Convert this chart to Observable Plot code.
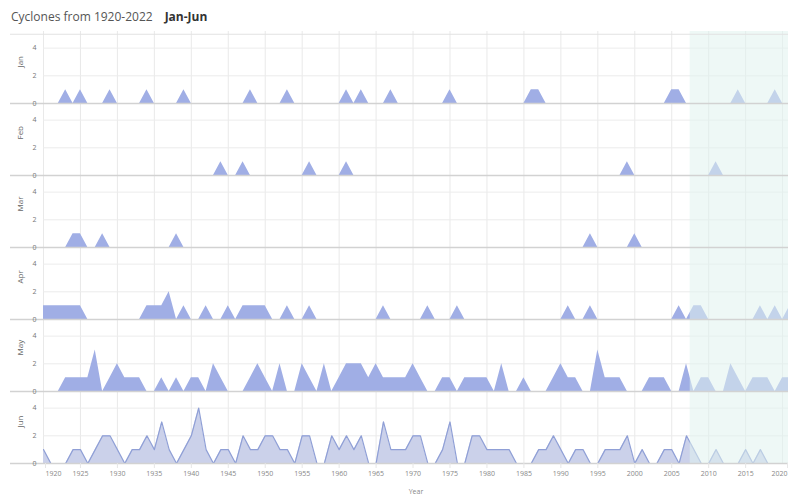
<!DOCTYPE html>
<html>
<head>
<meta charset="utf-8">
<script src="https://cdn.jsdelivr.net/npm/d3@7"></script>
<script src="https://cdn.jsdelivr.net/npm/@observablehq/plot@0.6"></script>
<style>
  html, body { margin: 0; padding: 0; background: #fff; }
  body { width: 788px; height: 496px; overflow: hidden; font-family: "Open Sans", sans-serif; }
  #title { height: 26px; line-height: 34px; padding-left: 11px; font-size: 12px; color: #555; white-space: nowrap; }
  #title b { color: #333; margin-left: 12px; font-weight: 700; }
</style>
</head>
<body>
<div id="title">Cyclones from 1920-2022<b>Jan-Jun</b></div>
<div id="chart"></div>
<script>
// Months (facet rows)
const months = ["Jan", "Feb", "Mar", "Apr", "May", "Jun"];
// Year range shown
const firstYear = 1920;
const lastYear = 2022;
const xMax = 2020.8;           // right edge of visible window
const highlightStart = 2007.5;  // start of shaded recent period
const xTicks = [1920, 1925, 1930, 1935, 1940, 1945, 1950, 1955, 1960, 1965, 1970,
                1975, 1980, 1985, 1990, 1995, 2000, 2005, 2010, 2015, 2020];
const yTicks = [0, 2, 4];

// Cyclone counts per year (years not listed had 0)
const jan = [[1923,1],[1925,1],[1929,1],[1934,1],[1939,1],[1948,1],[1953,1],[1961,1],[1963,1],
  [1967,1],[1975,1],[1986,1],[1987,1],[2005,1],[2006,1],[2014,1],[2019,1]];
const feb = [[1944,1],[1947,1],[1956,1],[1961,1],[1999,1],[2011,1]];
const mar = [[1924,1],[1925,1],[1928,1],[1938,1],[1994,1],[2000,1]];
const apr = [[1920,1],[1921,1],[1922,1],[1923,1],[1924,1],[1925,1],[1934,1],[1935,1],[1936,1],
  [1937,2],[1939,1],[1942,1],[1945,1],[1947,1],[1948,1],[1949,1],[1950,1],[1953,1],[1956,1],
  [1966,1],[1972,1],[1976,1],[1991,1],[1994,1],[2006,1],[2008,1],[2009,1],[2017,1],[2019,1],[2021,1]];
const may = [[1923,1],[1924,1],[1925,1],[1926,1],[1927,3],[1929,1],[1930,2],[1931,1],[1932,1],
  [1933,1],[1936,1],[1938,1],[1940,1],[1941,1],[1943,2],[1944,1],[1948,1],[1949,2],[1950,1],
  [1952,2],[1955,2],[1956,1],[1958,2],[1960,1],[1961,2],[1962,2],[1963,2],[1964,1],[1965,2],
  [1966,1],[1967,1],[1968,1],[1969,1],[1970,2],[1971,1],[1974,1],[1975,1],[1977,1],[1978,1],
  [1979,1],[1980,1],[1982,2],[1985,1],[1989,1],[1990,2],[1991,1],[1992,1],[1995,3],[1996,1],
  [1997,1],[1998,1],[2002,1],[2003,1],[2004,1],[2007,2],[2009,1],[2010,1],[2013,2],[2014,1],
  [2016,1],[2017,1],[2018,1],[2020,1],[2021,1]];
const jun = [[1920,1],[1924,1],[1925,1],[1927,1],[1928,2],[1929,2],[1930,1],[1932,1],[1933,1],
  [1934,2],[1935,1],[1936,3],[1937,1],[1939,1],[1940,2],[1941,4],[1942,1],[1944,1],[1945,1],
  [1947,2],[1948,1],[1949,1],[1950,2],[1951,2],[1952,1],[1953,1],[1955,2],[1956,2],[1959,2],
  [1960,1],[1961,2],[1962,1],[1963,2],[1966,3],[1967,1],[1968,1],[1969,1],[1970,2],[1971,2],
  [1974,1],[1975,3],[1978,2],[1979,2],[1980,1],[1981,1],[1982,1],[1983,1],[1987,1],[1988,1],
  [1989,2],[1990,1],[1992,1],[1993,1],[1996,1],[1997,1],[1998,1],[1999,2],[2001,1],[2004,1],
  [2005,1],[2007,2],[2008,1],[2011,1],[2015,1],[2017,1]];

const seriesByMonth = {Jan: jan, Feb: feb, Mar: mar, Apr: apr, May: may, Jun: jun};

// Colours
const areaFill = "#a0aee5";
const junFill = "#cbd1ea";
const junStroke = "#8f9fd6";
const shadeFill = "#e0f2ef";

// Build long table
const years = d3.range(firstYear, lastYear + 1);
const rows = months.flatMap(m => {
  const lookup = new Map(seriesByMonth[m]);
  return years.map(y => ({month: m, year: y, count: lookup.get(y) ?? 0}));
});
const rowsMain = rows.filter(d => d.month !== "Jun");
const rowsJun = rows.filter(d => d.month === "Jun");

const firstTick = xTicks[0];
const lastTick = xTicks[xTicks.length - 1];
const midTicks = xTicks.slice(1, -1);
const xAxisStyle = {tickFormat: d => String(d), tickSize: 5, stroke: "#e6e6e6", fill: "#888", fontSize: 7, tickPadding: 3};

const chart = Plot.plot({
  width: 788,
  height: 470,
  marginTop: 5,
  marginLeft: 43,
  marginRight: 0,
  marginBottom: 33,
  style: {fontFamily: "'Open Sans', sans-serif", background: "transparent", overflow: "hidden"},
  x: {domain: [firstYear, xMax]},
  y: {domain: [0, 5.2]},
  fy: {domain: months, padding: 0, axis: null},
  marks: [
    Plot.gridX({ticks: xTicks, stroke: "#e9e9e9", strokeOpacity: 1}),
    Plot.gridY({ticks: [2, 4], stroke: "#ececec", strokeOpacity: 1}),
    Plot.areaY(rowsMain, {x: "year", y: "count", fy: "month", fill: areaFill, clip: true}),
    Plot.areaY(rowsJun, {x: "year", y: "count", fy: "month", fill: junFill, clip: true}),
    Plot.lineY(rowsJun, {x: "year", y: "count", fy: "month", stroke: junStroke, strokeWidth: 1.2, clip: true}),
    Plot.rect([{x1: highlightStart, x2: lastYear}], {x1: "x1", x2: "x2", fill: shadeFill, fillOpacity: 0.55, clip: true}),
    Plot.ruleY([0], {stroke: "#d2d2d2", strokeWidth: 1.5, insetLeft: -33}),
    Plot.ruleY([{month: "Jan", v: 5}], {y: "v", fy: "month", stroke: "#e2e2e2", strokeWidth: 1.2, insetLeft: -33}),
    Plot.axisY({ticks: yTicks, tickFormat: d => String(d), tickSize: 0, tickPadding: 7, fontSize: 7, color: "#777", label: null}),
    Plot.text(months, {fy: d => d, text: d => d, frameAnchor: "left", rotate: -90, dx: -23, fontSize: 8, fill: "#666"}),
    Plot.axisX({...xAxisStyle, ticks: midTicks, label: "Year", labelAnchor: "center", labelArrow: "none", labelOffset: 30}),
    Plot.axisX({...xAxisStyle, ticks: [firstTick], textAnchor: "start", dx: 2, label: null}),
    Plot.axisX({...xAxisStyle, ticks: [lastTick], textAnchor: "end", dx: 5, label: null})
  ]
});
document.getElementById("chart").appendChild(chart);
</script>
</body>
</html>
